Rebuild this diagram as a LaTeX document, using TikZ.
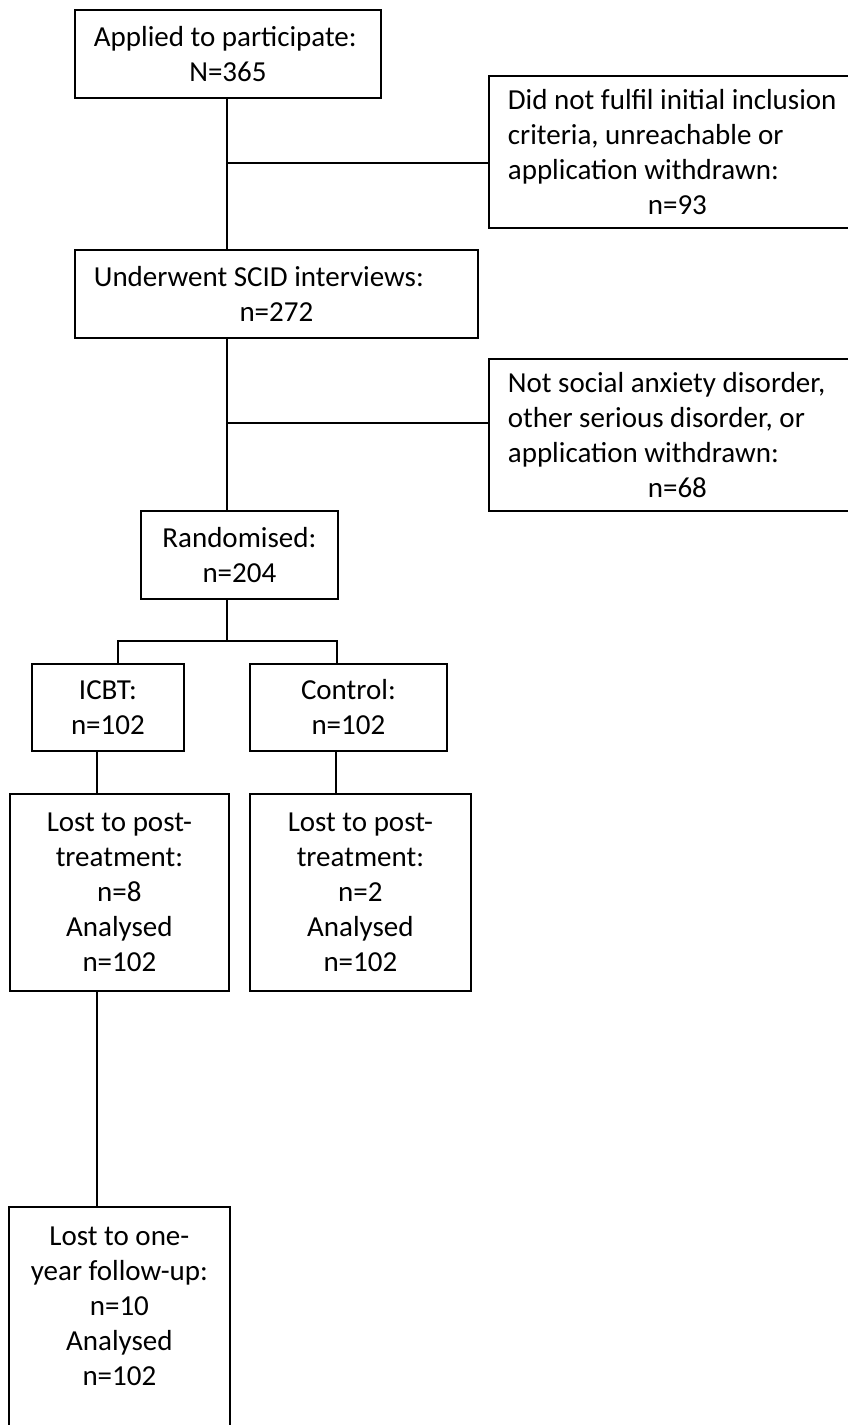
\documentclass[tikz,border=0pt]{standalone}
\usepackage{fontspec}
\setmainfont{Carlito}

\begin{document}
\begin{tikzpicture}[x=1pt, y=-1pt,
    box/.style={draw, line width=1.8pt, inner sep=0pt, anchor=north west,
      align=center, font=\fontsize{29}{35}\selectfont},
    leftbox/.style={box, align=left},
    link/.style={line width=1.5pt}]
    \useasboundingbox (0,0) rectangle (848,1425);

    % screening
    \node[leftbox, minimum width=306, minimum height=88] (applied) at (74,9)
      {Applied to participate:\\ \makebox[268pt]{N=365}};
    \node[leftbox, minimum width=377, minimum height=152] (excluded1) at (488,75)
      {Did not fulfil initial inclusion\\ criteria, unreachable or\\ application withdrawn:\\ \makebox[339pt]{n=93}};
    \node[leftbox, minimum width=403, minimum height=88] (scid) at (74,249)
      {Underwent SCID interviews:\\ \makebox[365pt]{n=272}};
    \node[leftbox, minimum width=377, minimum height=152] (excluded2) at (488,358)
      {Not social anxiety disorder,\\ other serious disorder, or\\ application withdrawn:\\ \makebox[339pt]{n=68}};
    \node[box, minimum width=197, minimum height=88] (rand) at (140,510)
      {Randomised:\\ n=204};

    % allocation
    \node[box, minimum width=152, minimum height=87] (icbt) at (31,663) {ICBT:\\ n=102};
    \node[box, minimum width=197, minimum height=87] (control) at (249,663) {Control:\\ n=102};

    % follow-up
    \node[box, minimum width=219, minimum height=197] (posticbt) at (9,793)
      {Lost to post-\\ treatment:\\ n=8\\ Analysed\\ n=102};
    \node[box, minimum width=221, minimum height=197] (postcontrol) at (249,793)
      {Lost to post-\\ treatment:\\ n=2\\ Analysed\\ n=102};
    \node[box, draw=none, minimum width=219, minimum height=197] (followup) at (9,1207)
      {Lost to one-\\ year follow-up:\\ n=10\\ Analysed\\ n=102};
    \draw[line width=1.8pt] (followup.north west) rectangle ([yshift=-40pt]followup.south east);

    % connectors
    \coordinate (trunk) at (227,0);
    \coordinate (split1) at (227,163);
    \coordinate (split2) at (227,423);
    \coordinate (fork) at (227,641);
    \coordinate (armicbt) at (118,641);
    \coordinate (armcontrol) at (337,641);
    \coordinate (legicbt) at (97,0);
    \coordinate (legcontrol) at (336,0);

    \draw[link] (applied.south -| trunk) -- (scid.north -| trunk);
    \draw[link] (split1) -- (split1 -| excluded1.west);
    \draw[link] (scid.south -| trunk) -- (rand.north -| trunk);
    \draw[link] (split2) -- (split2 -| excluded2.west);
    \draw[link] (rand.south -| trunk) -- (fork);
    \draw[link] (armicbt |- icbt.north) -- (armicbt) -- (armcontrol) -- (armcontrol |- control.north);
    \draw[link] (icbt.south -| legicbt) -- (posticbt.north -| legicbt);
    \draw[link] (control.south -| legcontrol) -- (postcontrol.north -| legcontrol);
    \draw[link] (posticbt.south -| legicbt) -- (followup.north -| legicbt);
\end{tikzpicture}
\end{document}
